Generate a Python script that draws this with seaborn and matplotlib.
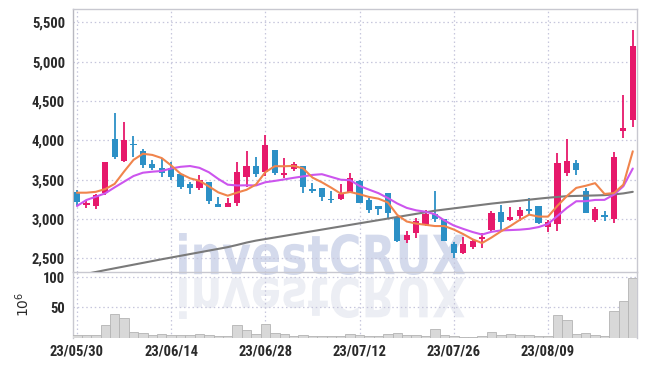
import numpy as np
import pandas as pd
import matplotlib
matplotlib.use("Agg")
import matplotlib.pyplot as plt
import seaborn as sns
from matplotlib.textpath import TextPath
from matplotlib.patches import PathPatch
from matplotlib.font_manager import FontProperties, fontManager
from matplotlib.transforms import Affine2D, IdentityTransform

# ---------------- data ----------------
dates = ["23/05/30", "23/05/31", "23/06/01", "23/06/02", "23/06/05", "23/06/07", "23/06/08", "23/06/09",
         "23/06/12", "23/06/13", "23/06/14", "23/06/15", "23/06/16", "23/06/19", "23/06/20", "23/06/21",
         "23/06/22", "23/06/23", "23/06/26", "23/06/27", "23/06/28", "23/06/29", "23/06/30", "23/07/03",
         "23/07/04", "23/07/05", "23/07/06", "23/07/07", "23/07/10", "23/07/11", "23/07/12", "23/07/13",
         "23/07/14", "23/07/17", "23/07/18", "23/07/19", "23/07/20", "23/07/21", "23/07/24", "23/07/25",
         "23/07/26", "23/07/27", "23/07/28", "23/07/31", "23/08/01", "23/08/02", "23/08/03", "23/08/04",
         "23/08/07", "23/08/08", "23/08/09", "23/08/10", "23/08/11", "23/08/14", "23/08/16", "23/08/17",
         "23/08/18", "23/08/21", "23/08/22", "23/08/23"]

opens = [3343, 3180, 3169, 3326, 4016, 3740, 3950, 3864, 3703, 3652, 3644, 3571, 3444, 3397, 3466, 3190,
         3156, 3199, 3530, 3673, 3601, 3876, 3563, 3631, 3673, 3381, 3390, 3258, 3250, 3348, 3483, 3241,
         3165, 3326, 3029, 2733, 2818, 2924, 3060, 2996, 2679, 2572, 2648, 2742, 2860, 3089, 2987, 3042,
         3127, 3165, 2894, 2932, 3588, 3707, 3356, 2987, 3051, 3000, 4121, 4257]
highs = [3368, 3229, 3318, 3724, 4342, 4236, 4054, 3893, 3749, 3770, 3724, 3571, 3474, 3555, 3466, 3275,
         3263, 3728, 3868, 3791, 4067, 3876, 3770, 3720, 3673, 3453, 3390, 3359, 3444, 3580, 3490, 3271,
         3170, 3335, 3029, 2844, 3017, 3114, 3356, 2996, 2712, 2767, 2750, 2818, 3106, 3178, 3156, 3156,
         3263, 3165, 2990, 3842, 4012, 3749, 3398, 3156, 3106, 3847, 4575, 5400]
lows = [3165, 3136, 3123, 3305, 3758, 3728, 3784, 3644, 3622, 3537, 3495, 3377, 3318, 3368, 3190, 3148,
        3150, 3169, 3410, 3530, 3546, 3560, 3517, 3614, 3334, 3326, 3232, 3207, 3245, 3326, 3200, 3080,
        3051, 3009, 2712, 2691, 2755, 2915, 2966, 2720, 2501, 2560, 2615, 2628, 2850, 2860, 2980, 2975,
        3051, 2937, 2839, 2852, 3550, 3559, 3075, 2966, 2979, 2945, 4025, 4172]
closes = [3220, 3195, 3301, 3724, 3791, 4003, 3935, 3690, 3652, 3588, 3537, 3410, 3397, 3495, 3232, 3156,
          3199, 3593, 3673, 3571, 3940, 3580, 3588, 3698, 3410, 3352, 3283, 3241, 3322, 3517, 3207, 3114,
          3131, 3080, 2724, 2793, 2975, 3060, 3000, 2724, 2572, 2683, 2724, 2767, 3072, 2966, 3021, 3114,
          3102, 2945, 2966, 3707, 3737, 3622, 3080, 3127, 3025, 3791, 4156, 5201]

ma5 = [3334, 3334, 3345, 3380, 3446, 3603, 3751, 3829, 3814, 3774, 3680, 3575, 3517, 3485, 3414, 3338,
       3296, 3335, 3371, 3438, 3595, 3671, 3670, 3675, 3643, 3526, 3466, 3397, 3322, 3343, 3314, 3280,
       3258, 3210, 3051, 2968, 2941, 2926, 2910, 2910, 2866, 2808, 2741, 2694, 2764, 2842, 2910, 2988,
       3055, 3030, 3030, 3167, 3291, 3395, 3422, 3455, 3318, 3329, 3436, 3860]
ma10 = [3165, 3241, 3283, 3326, 3402, 3474, 3546, 3588, 3601, 3610, 3642, 3663, 3673, 3650, 3594, 3509,
        3436, 3426, 3428, 3426, 3467, 3484, 3503, 3523, 3541, 3560, 3569, 3534, 3499, 3493, 3420, 3373,
        3328, 3266, 3197, 3141, 3110, 3092, 3060, 2981, 2917, 2874, 2834, 2802, 2837, 2854, 2859, 2864,
        2875, 2897, 2936, 3038, 3140, 3225, 3226, 3242, 3243, 3310, 3416, 3641]
ma_long = [2280, 2303, 2326, 2350, 2373, 2396, 2419, 2442, 2465, 2488, 2510, 2532, 2554, 2576, 2598, 2620,
           2642, 2670, 2700, 2725, 2745, 2765, 2785, 2805, 2825, 2845, 2865, 2885, 2905, 2925, 2945, 2965,
           2985, 3005, 3025, 3045, 3065, 3085, 3105, 3120, 3135, 3150, 3165, 3180, 3195, 3208, 3220, 3232,
           3245, 3258, 3270, 3280, 3290, 3293, 3296, 3299, 3303, 3312, 3325, 3345]

volume = [3.7, 3.7, 3.7, 20, 39, 32, 9, 7, 3.7, 5.3, 4, 4, 4, 5.3, 4, 2, 2, 20, 13, 5, 22, 7.5, 5, 2, 4, 2,
          2, 2, 2, 5.3, 4, 2, 2, 5, 7, 4, 4, 2, 13.6, 4, 2, 0.5, 0.5, 2, 8.6, 4, 5, 4, 4, 2, 2, 37.5, 29,
          5, 7, 4, 2, 44, 61, 98.6]

price_ticks = [2500, 3000, 3500, 4000, 4500, 5000, 5500]
vol_ticks = [50, 100]

# ---------------- style ----------------
sns.set_style("white")
available = {f.name for f in fontManager.ttflist}
label_font = "DejaVu Sans"
label_size = 9
label_weight = "bold"
for name, size, weight in [("Liberation Sans Narrow", 10.5, "bold"),
                           ("DejaVu Sans Condensed", 9.5, "bold"),
                           ("Roboto Condensed", 10.5, "bold"),
                           ("Roboto", 9.5, "medium")]:
    if name in available:
        label_font, label_size, label_weight = name, size, weight
        break
plt.rcParams["font.family"] = [label_font, "DejaVu Sans"]

UP = "#e6196b"
DOWN = "#2c90c6"
GRID = "#c6c6dc"
SPINE = "#c8c8d0"
TXT = "#2a2a2a"

W, H = 647, 366
fig = plt.figure(figsize=(W / 100, H / 100), dpi=100)
fig.patch.set_facecolor("white")

x0, x1 = 73.3, 637.3
ax = fig.add_axes([x0 / W, (H - 272) / H, (x1 - x0) / W, (272 - 9.3) / H])
axv = fig.add_axes([x0 / W, (H - 337.5) / H, (x1 - x0) / W, (337.5 - 272) / H], sharex=ax)
for a in (ax, axv):
    a.set_facecolor("none")

# ---------------- watermark ----------------
fp = FontProperties(family="DejaVu Sans", weight="bold")
tp = TextPath((0, 0), "investCRUX", size=50, prop=fp)
ext = tp.get_extents()
bx0, by0, bx1, by1 = 179, 91, 465, 133
sx = (bx1 - bx0) / ext.width
sy = (by1 - by0) / ext.height
tr_up = Affine2D().translate(-ext.x0, -ext.y0).scale(sx, sy).translate(bx0, by0)
fig.add_artist(PathPatch(tr_up.transform_path(tp), facecolor="#d4daec", edgecolor="none",
                         transform=IdentityTransform(), zorder=-5))
tr_dn = Affine2D().translate(-ext.x0, -ext.y0).scale(sx, -sy).translate(bx0, 89)
fig.add_artist(PathPatch(tr_dn.transform_path(tp), facecolor="#eceef4", edgecolor="none",
                         transform=IdentityTransform(), zorder=-5))

# ---------------- price panel ----------------
idx = np.arange(len(dates))
o = np.array(opens, float)
c = np.array(closes, float)
hi = np.array(highs, float)
lo = np.array(lows, float)
cols = [UP if cc >= oo else DOWN for oo, cc in zip(o, c)]
body_lo = np.minimum(o, c)
body_h = np.maximum(np.abs(c - o), 18)

ax.vlines(idx, lo, hi, colors=cols, linewidth=1.3, zorder=3)
ax.bar(idx, body_h, bottom=body_lo, width=0.66, color=cols, zorder=4, linewidth=0)

df = pd.DataFrame({"i": idx, "ma5": ma5, "ma10": ma10, "malong": ma_long})
sns.lineplot(data=df, x="i", y="malong", ax=ax, color="#7a7a7a", linewidth=1.5, zorder=5)
sns.lineplot(data=df, x="i", y="ma10", ax=ax, color="#cc55ee", linewidth=1.5, zorder=6)
sns.lineplot(data=df, x="i", y="ma5", ax=ax, color="#f0844c", linewidth=1.5, zorder=7)

ax.set_xlim(-0.39, 59.48)
ax.set_ylim(2326, 5665)
ax.set_yticks(price_ticks)
ax.set_yticklabels([f"{t:,}" for t in price_ticks])
ax.set_xticks(idx[::10])
ax.tick_params(axis="x", labelbottom=False, length=0)
ax.tick_params(axis="y", length=0, pad=6, labelsize=label_size, labelcolor=TXT)
ax.grid(True, color=GRID, linestyle=(0, (1.2, 2.2)), linewidth=0.9)
ax.set_axisbelow(True)
ax.set_xlabel("")
ax.set_ylabel("")
for s in ax.spines.values():
    s.set_color(SPINE)
    s.set_linewidth(1.0)
ax.spines["left"].set_color("#b8b8c0")

# ---------------- volume panel ----------------
vdf = pd.DataFrame({"i": idx, "v": volume})
sns.barplot(data=vdf, x="i", y="v", ax=axv, native_scale=True, color="#d8d8d8", saturation=1,
            edgecolor="#b4b4b4", linewidth=0.6, width=1.0, errorbar=None, zorder=3)
axv.set_xlim(-0.39, 59.48)
axv.set_ylim(0, 109)
axv.set_yticks(vol_ticks)
axv.set_yticklabels([str(t) for t in vol_ticks])
axv.set_xticks(idx[::10])
axv.set_xticklabels([dates[i] for i in idx[::10]])
axv.tick_params(axis="both", length=0, labelsize=label_size, labelcolor=TXT)
axv.tick_params(axis="y", pad=6)
axv.tick_params(axis="x", pad=5)
axv.grid(True, color=GRID, linestyle=(0, (1.2, 2.2)), linewidth=0.9)
axv.set_axisbelow(True)
axv.set_xlabel("")
axv.set_ylabel(r"$10^{6}$", fontsize=10, color=TXT, labelpad=8)
for s in axv.spines.values():
    s.set_color(SPINE)
    s.set_linewidth(1.0)
axv.spines["bottom"].set_visible(False)
axv.spines["top"].set_visible(False)

for lab in ax.get_yticklabels() + axv.get_yticklabels() + axv.get_xticklabels():
    lab.set_fontweight(label_weight)

fig.savefig("out.png", dpi=100)
